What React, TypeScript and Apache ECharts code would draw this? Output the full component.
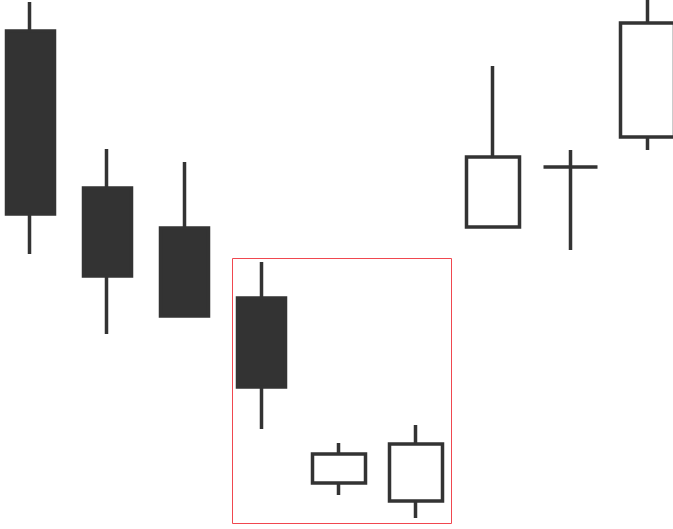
import React, { useEffect, useRef } from "react";
import * as echarts from "echarts";

// Categories (sessions) and OHLC values: [open, close, low, high]
const sessions = ["D1", "D2", "D3", "D4", "D5", "D6", "D7", "D8", "D9"];
const bearish: (number[] | null)[] = [
  [498, 315, 275, 527],
  [341, 253, 195, 380],
  [301, 213, 213, 367],
  [231, 142, 100, 267],
  null,
  null,
  null,
  null,
  null,
];
const bullish: (number[] | null)[] = [
  null,
  null,
  null,
  null,
  [46, 75, 34, 86],
  [28, 85, 11, 104],
  [302, 372, 302, 463],
  [362, 362, 279, 379],
  [392, 506, 379, 540],
];
const priceMin = 0;
const priceMax = 529;

export default function App() {
  const ref = useRef<HTMLDivElement>(null);
  useEffect(() => {
    if (!ref.current) return;
    const chart = echarts.init(ref.current, null, { renderer: "svg" });
    const toData = (arr: (number[] | null)[]) => arr.map((d) => (d ? d : "-"));
    chart.setOption({
      animation: false,
      grid: { left: 30, right: 25.5, top: 0, bottom: 0, containLabel: false },
      xAxis: {
        type: "category",
        data: sessions,
        boundaryGap: false,
        show: false,
      },
      yAxis: {
        type: "value",
        min: priceMin,
        max: priceMax,
        show: false,
        splitLine: { show: false },
      },
      series: [
        {
          type: "candlestick",
          name: "down",
          data: toData(bearish),
          barWidth: 48.5,
          itemStyle: {
            color: "#fff",
            color0: "#333333",
            borderColor: "#333333",
            borderColor0: "#333333",
            borderColorDoji: "#333333",
            borderWidth: 3.5,
          },
        },
        {
          type: "candlestick",
          name: "up",
          data: toData(bullish),
          barWidth: 54,
          itemStyle: {
            color: "#ffffff",
            color0: "#333333",
            borderColor: "#333333",
            borderColor0: "#333333",
            borderColorDoji: "#333333",
            borderWidth: 3.5,
          },
        },
      ],
      graphic: [
        {
          type: "rect",
          shape: { x: 232.5, y: 258.5, width: 219, height: 265 },
          style: { fill: "none", stroke: "#f0474f", lineWidth: 1 },
          z: 10,
        },
      ],
    });
    return () => chart.dispose();
  }, []);
  return (
    <div
      ref={ref}
      style={{ position: "fixed", left: 0, top: 0, width: 673, height: 529, background: "#fff" }}
    />
  );
}
